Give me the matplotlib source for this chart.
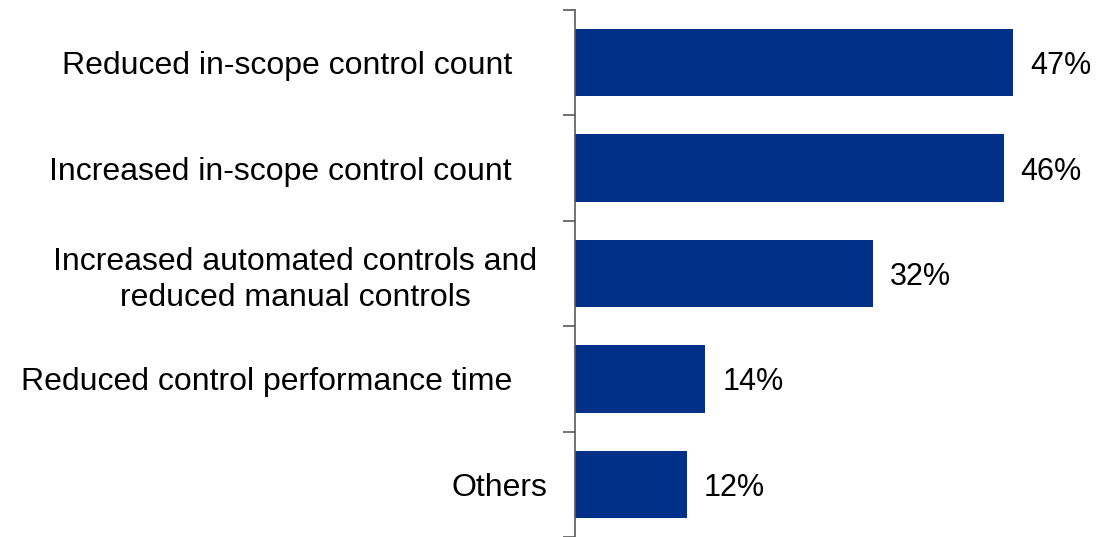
import numpy as np
import matplotlib.pyplot as plt
import matplotlib.transforms as mtransforms

plt.rcParams['font.family'] = ['Liberation Sans', 'DejaVu Sans']

# data
categories = [
    'Reduced in-scope control count',
    'Increased in-scope control count',
    'Increased automated controls and\nreduced manual controls',
    'Reduced control performance time',
    'Others',
]
values = [47, 46, 32, 14, 12]

# right edge of each category label box, in pixels
label_right = [512, 512, 537, 512, 547]

BAR_COLOR = '#003087'
AXIS_COLOR = '#595959'
W, H = 1112, 537


def main():
    fig = plt.figure(figsize=(W / 100, H / 100), dpi=100)
    ax = fig.add_axes([575 / W, 0.0, 1 - 575 / W, 1 - 10 / H])

    y = np.arange(len(categories))
    ax.barh(y, values, height=0.64, color=BAR_COLOR)

    for yi, v in zip(y, values):
        ax.text(v + 1.8, yi, f'{v}%', va='center_baseline', ha='left', fontsize=22, color='black')

    # category labels, placed like the original text boxes
    trans = mtransforms.blended_transform_factory(fig.transFigure, ax.transData)
    for yi, lab, xr in zip(y, categories, label_right):
        fig.text(xr / W, yi, lab, transform=trans, ha='right', va='center_baseline',
                 multialignment='center', fontsize=23, color='black', linespacing=1.25)

    ax.set_xlim(0, 537 / 9.32)
    ax.set_ylim(len(categories) - 0.5, -0.5)

    # boundary ticks on the axis
    ax.set_yticks(np.arange(len(categories) + 1) - 0.5)
    ax.set_yticklabels([])
    ax.tick_params(axis='y', length=9, width=1.2, color=AXIS_COLOR, direction='out')

    for side in ['top', 'right', 'bottom']:
        ax.spines[side].set_visible(False)
    ax.spines['left'].set_color(AXIS_COLOR)
    ax.spines['left'].set_linewidth(1.2)
    ax.set_xticks([])

    fig.savefig('out.png', dpi=100)


if __name__ == '__main__':
    main()
